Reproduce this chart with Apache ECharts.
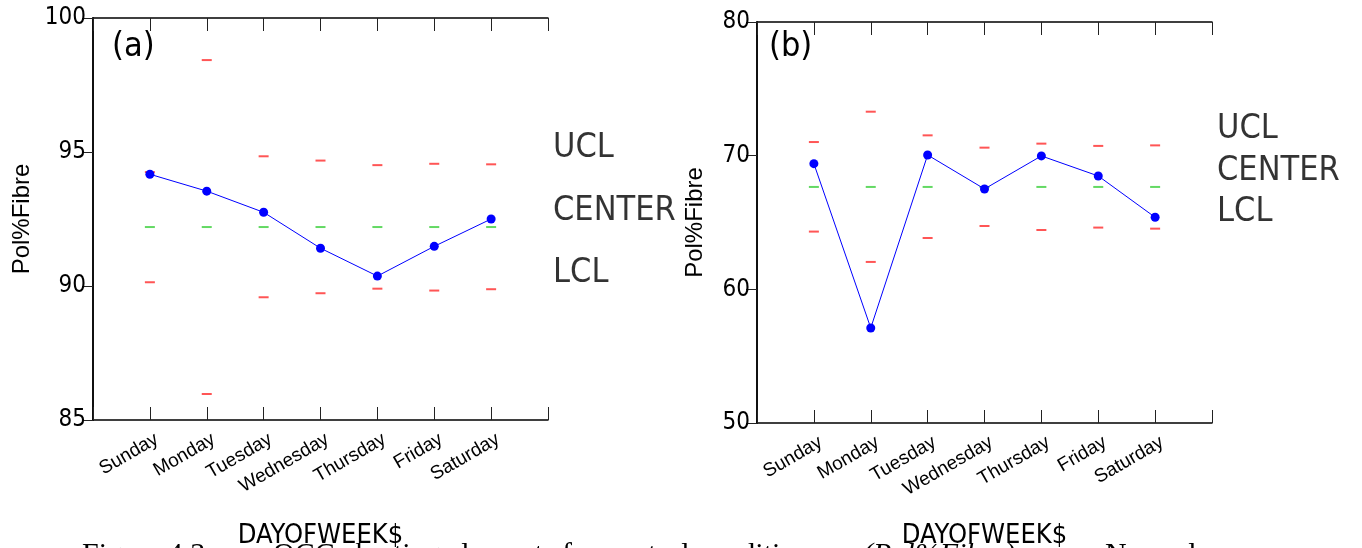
<!DOCTYPE html>
<html>
<head>
<meta charset="utf-8">
<script src="https://cdn.jsdelivr.net/npm/echarts@6/dist/echarts.min.js"></script>
<style>
  html, body { margin: 0; padding: 0; background: #fff; }
  #chart { width: 1362px; height: 548px; }
</style>
</head>
<body>
<div id="chart"></div>
<script>
// Days of the week shown along both x axes
const days = ['Sunday', 'Monday', 'Tuesday', 'Wednesday', 'Thursday', 'Friday', 'Saturday'];

// Panel (a): daily means with control limits
const aValues = [94.17, 93.54, 92.75, 91.41, 90.37, 91.48, 92.50];
const aUCL    = [94.25, 98.43, 94.84, 94.68, 94.51, 94.56, 94.54];
const aCenter = [92.20, 92.20, 92.20, 92.20, 92.20, 92.20, 92.20];
const aLCL    = [90.14, 85.97, 89.58, 89.73, 89.90, 89.83, 89.88];
const aTicks  = [85, 90, 95, 100];

// Panel (b): daily means with control limits
const bValues = [69.40, 57.11, 70.05, 67.51, 69.98, 68.48, 65.39];
const bUCL    = [71.02, 73.29, 71.52, 70.60, 70.90, 70.73, 70.77];
const bCenter = [67.66, 67.66, 67.66, 67.66, 67.66, 67.66, 67.66];
const bLCL    = [64.32, 62.05, 63.84, 64.74, 64.44, 64.62, 64.54];
const bTicks  = [50, 60, 70, 80];

const limitNames = ['UCL', 'CENTER', 'LCL'];

const COND = "'DejaVu Sans Condensed', 'Liberation Sans', sans-serif";
const SANS = "'Liberation Sans', Arial, sans-serif";
const SERIF = "'Liberation Serif', 'Times New Roman', serif";

const pairs = arr => arr.map((v, i) => [i + 1, v]);

function axesFor(g, ticks, nameGapY, nameGapX) {
  const min = ticks[0], max = ticks[ticks.length - 1], step = ticks[1] - ticks[0];
  const frameLine = { show: true, lineStyle: { color: '#000', width: 1.5 } };
  const tick = { show: true, inside: true, length: 13, lineStyle: { color: '#222', width: 1 } };
  const x = [
    {
      type: 'value', gridIndex: g, min: 0, max: days.length + 1, interval: 1,
      axisLine: frameLine, axisTick: tick,
      splitLine: { show: false },
      axisLabel: {
        show: true, rotate: 30, margin: 22, fontSize: 19, fontFamily: SANS, color: '#000',
        padding: [0, -8, 0, 0],
        formatter: v => days[v - 1] || ''
      },
      name: 'DAYOFWEEK$', nameLocation: 'middle', nameGap: nameGapX,
      nameTextStyle: { fontSize: 27, fontFamily: COND, color: '#000' }
    },
    {
      type: 'value', gridIndex: g, position: 'top', min: 0, max: days.length + 1, interval: 1,
      axisLine: frameLine, axisTick: tick,
      splitLine: { show: false },
      axisLabel: { show: false }
    }
  ];
  const y = [
    {
      type: 'value', gridIndex: g, min: min, max: max, interval: step,
      axisLine: frameLine,
      axisTick: { show: false },
      splitLine: { show: false },
      axisLabel: { show: true, margin: 7, fontSize: 24, fontFamily: COND, color: '#000' },
      name: 'Pol%Fibre', nameLocation: 'middle', nameGap: nameGapY,
      nameTextStyle: { fontSize: 24, fontFamily: SANS, color: '#000' }
    },
    {
      type: 'value', gridIndex: g, position: 'right', min: min, max: max, interval: step,
      axisLine: frameLine,
      axisTick: { show: true, inside: true, length: 11, lineStyle: { color: '#222', width: 1 } },
      splitLine: { show: false },
      axisLabel: { show: false }
    }
  ];
  return { x, y };
}

function seriesFor(g, values, ucl, center, lcl) {
  const xi = g * 2, yi = g * 2;
  const dash = (data, color) => ({
    type: 'scatter', xAxisIndex: xi, yAxisIndex: yi, data: pairs(data),
    symbol: 'rect', symbolSize: [10, 2], itemStyle: { color: color }, z: 2,
    silent: true
  });
  const last = values.length - 1;
  return [
    dash(ucl, '#ff2a2a'),
    dash(center, '#3ccf3c'),
    dash(lcl, '#ff2a2a'),
    {
      type: 'line', xAxisIndex: xi, yAxisIndex: yi, data: pairs(values),
      symbol: 'circle', symbolSize: 9, showSymbol: true,
      lineStyle: { color: '#0000ff', width: 1 },
      itemStyle: { color: '#0000ff' }, z: 5, silent: true
    },
    {
      // limit names beside the right frame, sitting on the last day's limits
      type: 'scatter', xAxisIndex: xi, yAxisIndex: yi, clip: false,
      symbolSize: 0, silent: true,
      data: [ucl[last], center[last], lcl[last]].map((v, i) => [days.length + 1, v, limitNames[i]]),
      label: {
        show: true, position: 'right', distance: 5, offset: [0, -16],
        formatter: p => p.data[2], fontSize: 34, fontFamily: COND, color: '#000'
      }
    }
  ];
}

const A = axesFor(0, aTicks, 59, 102);
const B = axesFor(1, bTicks, 50, 99);

const option = {
  backgroundColor: '#fff',
  animation: false,
  grid: [
    { left: 93, top: 18, width: 455, height: 402, containLabel: false, outerBoundsMode: 'none' },
    { left: 757, top: 22, width: 455, height: 401, containLabel: false, outerBoundsMode: 'none' }
  ],
  xAxis: [...A.x, ...B.x],
  yAxis: [...A.y, ...B.y],
  series: [
    ...seriesFor(0, aValues, aUCL, aCenter, aLCL),
    ...seriesFor(1, bValues, bUCL, bCenter, bLCL)
  ],
  graphic: [
    { type: 'text', left: 112, top: 30, style: { text: '(a)', fontSize: 34, fontFamily: COND, fill: '#000' } },
    { type: 'text', left: 769, top: 30, style: { text: '(b)', fontSize: 34, fontFamily: COND, fill: '#000' } },
    { type: 'text', x: 82, y: 555, style: { text: 'Figure 4.3', fontSize: 30, fontFamily: SERIF, fill: '#000', verticalAlign: 'middle' } },
    { type: 'text', x: 273, y: 555, style: { text: 'QCC charting elements for control conditions', fontSize: 30, fontFamily: SERIF, fill: '#000', verticalAlign: 'middle' } },
    { type: 'text', x: 863, y: 555, style: { text: '(Pol%Fibre)', fontSize: 30, fontFamily: SERIF, fontStyle: 'italic', fill: '#000', verticalAlign: 'middle' } },
    { type: 'text', x: 1105, y: 555, style: { text: 'Normal', fontSize: 30, fontFamily: SERIF, fill: '#000', verticalAlign: 'middle' } }
  ]
};

const chart = echarts.init(document.getElementById('chart'), null, { renderer: 'canvas' });
chart.setOption(option);
</script>
</body>
</html>
